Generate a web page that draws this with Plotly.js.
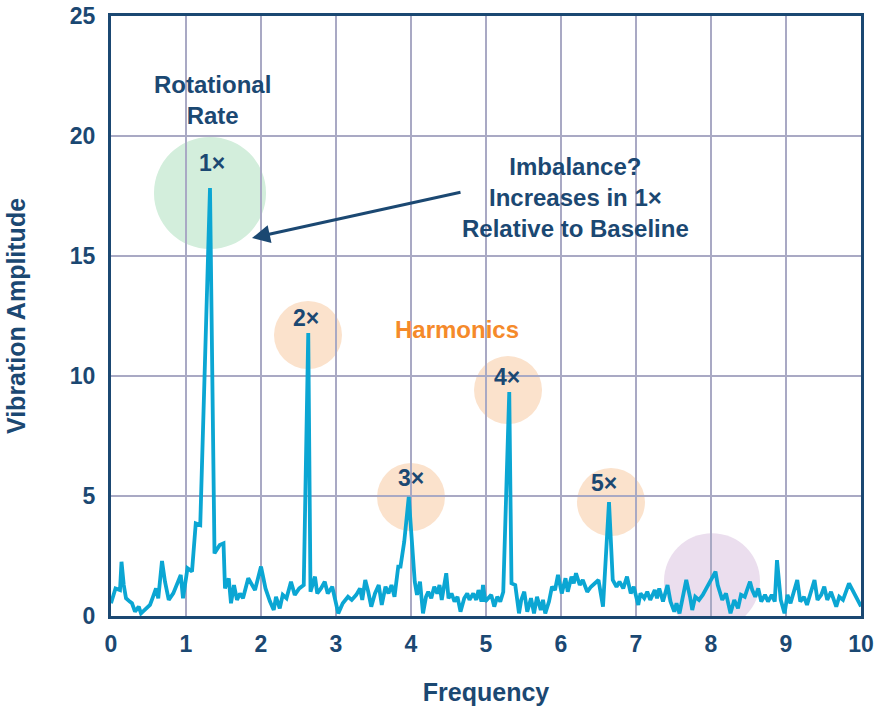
<!DOCTYPE html>
<html>
<head>
<meta charset="utf-8">
<script src="https://cdn.plot.ly/plotly-3.0.1.min.js"></script>
<style>html,body{margin:0;padding:0;background:#fff}#chart{width:888px;height:715px}</style>
</head>
<body>
<div id="chart"></div>
<script>
const freq = [0, 0.06, 0.12, 0.14, 0.17, 0.2, 0.25, 0.28, 0.32, 0.37, 0.4, 0.46, 0.52, 0.56, 0.6, 0.63, 0.68, 0.72, 0.77, 0.83, 0.88, 0.93, 0.96, 1.02, 1.08, 1.13, 1.19, 1.32, 1.38, 1.45, 1.5, 1.52, 1.57, 1.6, 1.64, 1.68, 1.72, 1.76, 1.83, 1.92, 2.0, 2.06, 2.12, 2.17, 2.2, 2.25, 2.29, 2.34, 2.4, 2.45, 2.51, 2.57, 2.63, 2.66, 2.72, 2.75, 2.8, 2.85, 2.89, 2.95, 3.03, 3.09, 3.16, 3.21, 3.27, 3.32, 3.35, 3.39, 3.43, 3.47, 3.52, 3.57, 3.61, 3.66, 3.7, 3.74, 3.78, 3.83, 3.86, 3.91, 3.97, 4.05, 4.08, 4.12, 4.16, 4.2, 4.23, 4.27, 4.31, 4.35, 4.38, 4.41, 4.47, 4.5, 4.54, 4.58, 4.62, 4.66, 4.71, 4.75, 4.78, 4.83, 4.87, 4.9, 4.94, 4.96, 4.99, 5.03, 5.07, 5.11, 5.15, 5.19, 5.23, 5.31, 5.34, 5.39, 5.44, 5.47, 5.51, 5.55, 5.6, 5.64, 5.68, 5.73, 5.76, 5.79, 5.84, 5.88, 5.92, 5.96, 6.01, 6.06, 6.09, 6.14, 6.17, 6.2, 6.25, 6.29, 6.35, 6.4, 6.46, 6.5, 6.56, 6.64, 6.69, 6.74, 6.78, 6.83, 6.88, 6.93, 6.97, 7.03, 7.06, 7.11, 7.15, 7.19, 7.25, 7.28, 7.31, 7.36, 7.42, 7.46, 7.51, 7.54, 7.58, 7.61, 7.67, 7.72, 7.75, 7.79, 7.84, 7.89, 7.94, 8.06, 8.09, 8.15, 8.2, 8.26, 8.31, 8.36, 8.4, 8.45, 8.48, 8.52, 8.55, 8.59, 8.63, 8.67, 8.72, 8.76, 8.81, 8.85, 8.88, 8.93, 8.98, 9.02, 9.06, 9.11, 9.15, 9.19, 9.24, 9.28, 9.33, 9.38, 9.42, 9.47, 9.51, 9.55, 9.6, 9.67, 9.71, 9.76, 9.84, 9.91, 9.98, 10];
const amplitude = [0.53, 1.15, 1.08, 2.26, 1.29, 0.74, 0.6, 0.53, 0.18, 0.39, 0.11, 0.29, 0.46, 0.8, 1.15, 0.74, 2.29, 1.43, 0.67, 0.94, 1.29, 1.71, 0.74, 1.99, 1.85, 3.86, 3.79, 17.83, 2.61, 2.96, 3.03, 1.15, 1.57, 0.53, 1.29, 0.67, 0.94, 0.74, 1.57, 1.08, 2.06, 1.15, 0.6, 0.25, 0.8, 0.32, 0.88, 0.74, 1.43, 0.88, 1.15, 1.29, 11.79, 1.01, 1.64, 0.94, 1.15, 1.43, 0.94, 1.22, 0.11, 0.53, 0.8, 0.67, 0.88, 1.15, 0.67, 1.5, 1.01, 0.39, 0.94, 1.29, 0.46, 1.22, 0.94, 1.29, 0.8, 2.06, 2.06, 3.1, 4.96, 1.43, 0.88, 1.43, 0.11, 0.8, 1.01, 0.74, 1.22, 0.94, 1.29, 0.67, 1.78, 0.74, 0.94, 0.6, 0.8, 0.18, 0.74, 0.94, 0.67, 0.94, 0.67, 1.08, 0.6, 1.29, 0.6, 0.74, 0.88, 0.39, 0.8, 0.6, 1.0, 9.33, 1.36, 1.29, 0.11, 0.67, 1.01, 0.18, 0.74, 0.11, 0.8, 0.25, 0.67, 0.11, 0.6, 1.22, 1.08, 1.71, 0.94, 1.57, 1.01, 1.64, 1.36, 1.78, 1.29, 1.5, 1.01, 1.22, 1.36, 1.5, 0.39, 4.75, 1.5, 1.22, 1.43, 1.15, 1.64, 0.94, 1.22, 0.46, 0.94, 0.74, 1.01, 0.67, 1.08, 0.74, 1.15, 0.6, 1.29, 0.6, 0.18, 0.53, 0.11, 0.6, 1.5, 0.8, 0.25, 0.8, 0.67, 0.88, 1.15, 1.85, 1.29, 0.67, 0.94, 0.11, 0.67, 0.32, 0.88, 0.8, 1.08, 1.43, 1.08, 0.8, 1.15, 0.6, 0.88, 0.6, 0.88, 0.6, 2.33, 0.67, 0.11, 0.88, 0.53, 1.08, 1.5, 0.6, 0.8, 0.46, 1.01, 1.5, 0.67, 0.88, 1.22, 0.67, 1.01, 0.39, 0.8, 0.67, 1.36, 0.94, 0.46, 0.4];

const xTicks = [0,1,2,3,4,5,6,7,8,9,10];
const yTicks = [0,5,10,15,20,25];

const harmonicLabels = ["1×", "2×", "3×", "4×", "5×"];
const harmonicLabelX = [1.347, 2.6, 4.0, 5.28, 6.573];
const harmonicLabelY = [18.875, 12.42, 5.75, 9.96, 5.54];

// circle highlights: [x0, x1, y0, y1]
const circleX0 = [0.573, 2.173, 3.547, 4.84, 6.213, 7.373];
const circleX1 = [2.067, 3.08, 4.453, 5.747, 7.12, 8.653];
const circleY0 = [15.29, 10.29, 3.54, 8.0, 3.33, -0.55];
const circleY1 = [19.96, 13.125, 6.375, 10.83, 6.17, 3.45];
const circleColors = ["#d3eedc", "#fbe2cc", "#fbe2cc", "#fbe2cc", "#fbe2cc", "#ebdeee"];

const NAVY = "#1b4872";
const FONT = "Liberation Sans, Arial, sans-serif";

const shapes = circleX0.map((x0, i) => ({
  type: "circle", xref: "x", yref: "y",
  x0: x0, x1: circleX1[i], y0: circleY0[i], y1: circleY1[i],
  fillcolor: circleColors[i], line: {width: 0}, layer: "below"
}));

const annotations = [];
harmonicLabels.forEach((t, i) => annotations.push({
  x: harmonicLabelX[i], y: harmonicLabelY[i], xref: "x", yref: "y",
  text: t, showarrow: false,
  font: {family: FONT, size: 23, color: NAVY, weight: "bold"}
}));
annotations.push({
  x: 1.347, y: 21.5, xref: "x", yref: "y",
  text: "Rotational<br>Rate", showarrow: false,
  font: {family: FONT, size: 24, color: NAVY, weight: "bold"}
});
annotations.push({
  x: 4.613, y: 11.92, xref: "x", yref: "y",
  text: "Harmonics", showarrow: false,
  font: {family: FONT, size: 24, color: "#f58a2a", weight: "bold"}
});
annotations.push({
  x: 6.187, y: 17.45, xref: "x", yref: "y",
  text: "Imbalance?<br>Increases in 1×<br>Relative to Baseline", showarrow: false,
  font: {family: FONT, size: 24, color: NAVY, weight: "bold"}
});
annotations.push({
  x: 1.88, y: 15.75, xref: "x", yref: "y",
  ax: 4.68, ay: 17.67, axref: "x", ayref: "y",
  text: "", showarrow: true, arrowhead: 2, arrowsize: 1.2, arrowwidth: 3, arrowcolor: NAVY
});

const trace = {
  x: freq, y: amplitude, type: "scatter", mode: "lines",
  line: {color: "#0ba6d3", width: 3.8},
  hoverinfo: "skip"
};

const layout = {
  width: 888, height: 715,
  margin: {l: 111, r: 27, t: 16, b: 99},
  paper_bgcolor: "#ffffff", plot_bgcolor: "#ffffff",
  showlegend: false,
  xaxis: {
    range: [0, 10], tickvals: xTicks, ticktext: xTicks.map(String),
    showgrid: true, gridcolor: "#a9a9c4", gridwidth: 2, zeroline: false,
    showline: true, linecolor: NAVY, linewidth: 3, mirror: true,
    ticks: "", ticklabelstandoff: 5,
    tickfont: {family: FONT, size: 23, color: NAVY, weight: "bold"},
    title: {text: "Frequency", standoff: 28, font: {family: FONT, size: 25, color: NAVY, weight: "bold"}}
  },
  yaxis: {
    range: [0, 25], tickvals: yTicks, ticktext: yTicks.map(String),
    showgrid: true, gridcolor: "#a9a9c4", gridwidth: 2, zeroline: false,
    showline: true, linecolor: NAVY, linewidth: 3, mirror: true,
    ticks: "", ticklabelstandoff: 8,
    tickfont: {family: FONT, size: 23, color: NAVY, weight: "bold"},
    title: {text: "Vibration Amplitude", standoff: 38, font: {family: FONT, size: 25, color: NAVY, weight: "bold"}}
  },
  shapes: shapes,
  annotations: annotations
};

Plotly.newPlot("chart", [trace], layout, {staticPlot: true, displayModeBar: false});
</script>
</body>
</html>
